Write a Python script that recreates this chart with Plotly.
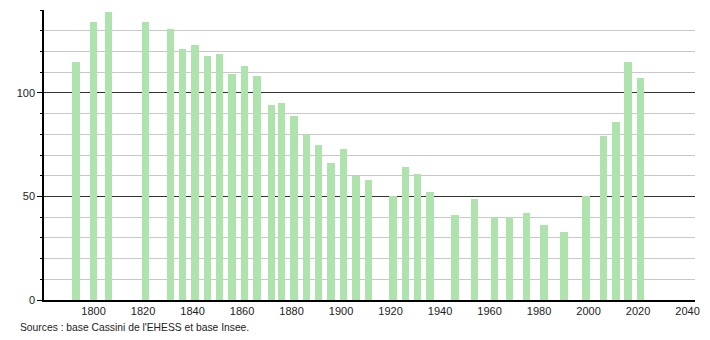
import plotly.graph_objects as go

years = [1793, 1800, 1806, 1821, 1831, 1836, 1841, 1846, 1851, 1856, 1861, 1866,
         1872, 1876, 1881, 1886, 1891, 1896, 1901, 1906, 1911, 1921, 1926, 1931,
         1936, 1946, 1954, 1962, 1968, 1975, 1982, 1990, 1999, 2006, 2011, 2016, 2021]
population = [115, 134, 139, 134, 131, 121, 123, 118, 119, 109, 113, 108,
              94, 95, 89, 80, 75, 66, 73, 60, 58, 50, 64, 61,
              52, 41, 49, 40, 40, 42, 36, 33, 50, 79, 86, 115, 107]

x_ticks = [1800, 1820, 1840, 1860, 1880, 1900, 1920, 1940, 1960, 1980, 2000, 2020, 2040]
y_ticks = [0, 50, 100]
source_text = "Sources : base Cassini de l'EHESS et base Insee."

fig = go.Figure()
fig.add_trace(go.Bar(
    x=years, y=population, width=3,
    marker=dict(color="#aee3ae", line=dict(width=0)),
    hoverinfo="x+y",
))

fig.update_layout(
    width=710, height=340,
    margin=dict(l=44, r=10, t=10, b=40),
    paper_bgcolor="white", plot_bgcolor="white",
    showlegend=False, bargap=0,
    font=dict(family="Liberation Sans, Arial, sans-serif", size=11, color="#222"),
    xaxis=dict(
        range=[1780, 2043], tickvals=x_ticks, ticktext=[str(v) for v in x_ticks],
        showgrid=False, zeroline=False,
        showline=True, linecolor="black", linewidth=1.5,
        ticks="", tickfont=dict(size=11, color="#222"),
    ),
    yaxis=dict(
        range=[0, 140], tickvals=y_ticks, ticktext=[str(v) for v in y_ticks],
        showgrid=True, gridcolor="#333333", gridwidth=1,
        zeroline=False,
        showline=True, linecolor="black", linewidth=1.5,
        ticks="outside", ticklen=5, tickcolor="black", tickwidth=1.2,
        tickfont=dict(size=11, color="#222"),
        minor=dict(dtick=10, tick0=0, showgrid=True, gridcolor="#c8c8c8", gridwidth=1,
                   ticks="outside", ticklen=2, tickcolor="black"),
    ),
    annotations=[dict(
        text=source_text, xref="paper", yref="paper",
        x=-26/656, y=-20/290, xanchor="left", yanchor="top",
        showarrow=False, font=dict(size=10.3, color="#222"),
    )],
)

fig.write_html("out.html")
